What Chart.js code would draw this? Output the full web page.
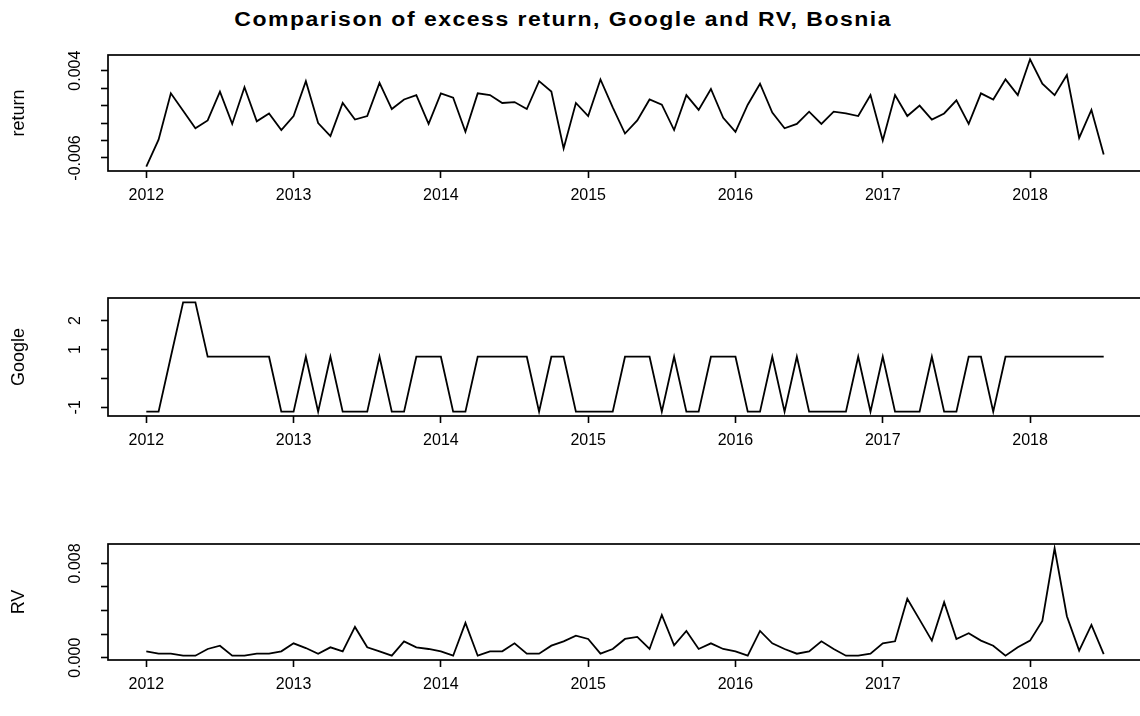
<!DOCTYPE html>
<html>
<head>
<meta charset="utf-8">
<script src="https://cdn.jsdelivr.net/npm/chart.js@4.4.1/dist/chart.umd.min.js"></script>
<style>
  html, body { margin: 0; padding: 0; background: #fff; overflow: hidden; }
  #page { position: relative; width: 1140px; height: 716px; overflow: hidden; }
  .panel { position: absolute; left: 0; }
  #title {
    position: absolute; top: 8px; left: 0; width: 1126px; text-align: center;
    font: bold 20px "Liberation Sans", Arial, sans-serif; letter-spacing: 1.3px; color: #000;
    transform: scaleX(1.15); transform-origin: 562px 0;
  }
</style>
</head>
<body>
<div id="page">
  <div id="title">Comparison of excess return, Google and RV, Bosnia</div>
  <div class="panel" style="top:45px"><canvas id="c-return" width="1143" height="172"></canvas></div>
  <div class="panel" style="top:288px"><canvas id="c-google" width="1143" height="174"></canvas></div>
  <div class="panel" style="top:534px"><canvas id="c-rv" width="1143" height="172"></canvas></div>
</div>
<script>
// monthly series, Jan 2012 .. Jul 2018
const startYear = 2012;
const xTickYears = [2012, 2013, 2014, 2015, 2016, 2017, 2018];

const returnValues = [
  -0.0070, -0.0039, 0.0014, -0.0006, -0.0026, -0.0017, 0.0016, -0.0021, 0.0021, -0.0018, -0.0009, -0.0028,
  -0.0012, 0.0028, -0.0020, -0.0035, 0.0003, -0.0016, -0.0012, 0.0026, -0.0004, 0.0007, 0.0012, -0.0021,
  0.0014, 0.0009, -0.0030, 0.0014, 0.0012, 0.0003, 0.0004, -0.0004, 0.0028, 0.0016, -0.0049, 0.0003,
  -0.0012, 0.0030, -0.0002, -0.0032, -0.0017, 0.0007, 0.0001, -0.0028, 0.0012, -0.0005, 0.0019, -0.0014,
  -0.0030, 0.0001, 0.0025, -0.0008, -0.0026, -0.0021, -0.0007, -0.0021, -0.0007, -0.0009, -0.0012, 0.0012,
  -0.0040, 0.0012, -0.0012, 0.0000, -0.0016, -0.0009, 0.0006, -0.0021, 0.0014, 0.0007, 0.0030, 0.0012,
  0.0053, 0.0025, 0.0012, 0.0035, -0.0037, -0.0005, -0.0056
];

const googleValues = [
  -1.15, -1.15, 0.75, 2.63, 2.63, 0.75, 0.75, 0.75, 0.75, 0.75, 0.75, -1.15,
  -1.15, 0.75, -1.15, 0.75, -1.15, -1.15, -1.15, 0.75, -1.15, -1.15, 0.75, 0.75,
  0.75, -1.15, -1.15, 0.75, 0.75, 0.75, 0.75, 0.75, -1.15, 0.75, 0.75, -1.15,
  -1.15, -1.15, -1.15, 0.75, 0.75, 0.75, -1.15, 0.75, -1.15, -1.15, 0.75, 0.75,
  0.75, -1.15, -1.15, 0.75, -1.15, 0.75, -1.15, -1.15, -1.15, -1.15, 0.75, -1.15,
  0.75, -1.15, -1.15, -1.15, 0.75, -1.15, -1.15, 0.75, 0.75, -1.15, 0.75, 0.75,
  0.75, 0.75, 0.75, 0.75, 0.75, 0.75, 0.75
];

const rvValues = [
  0.00054, 0.00034, 0.00034, 0.00017, 0.00017, 0.00074, 0.00102, 0.00017, 0.00017, 0.00034, 0.00034, 0.00054,
  0.00122, 0.00082, 0.00034, 0.00088, 0.00054, 0.00261, 0.00088, 0.00054, 0.00017, 0.00139, 0.00088, 0.00074,
  0.00054, 0.00017, 0.00295, 0.00017, 0.00054, 0.00054, 0.00122, 0.00034, 0.00034, 0.00102, 0.00139, 0.00187,
  0.00159, 0.00034, 0.00074, 0.00159, 0.00176, 0.00074, 0.00363, 0.00105, 0.00227, 0.00074, 0.00122, 0.00074,
  0.00054, 0.00017, 0.00227, 0.00122, 0.00074, 0.00034, 0.00054, 0.00139, 0.00074, 0.00017, 0.00017, 0.00034,
  0.00122, 0.00139, 0.00500, 0.00323, 0.00145, 0.00471, 0.00159, 0.00207, 0.00145, 0.00102, 0.00017, 0.00088,
  0.00145, 0.00312, 0.00928, 0.00352, 0.00060, 0.00278, 0.00031
];

const returnTicks = [-0.006, -0.004, -0.002, 0, 0.002, 0.004];
const returnTickLabels = ['-0.006', '', '', '', '', '0.004'];
const googleTicks = [-1, 0, 1, 2];
const googleTickLabels = ['-1', '', '1', '2'];
const rvTicks = [0, 0.002, 0.004, 0.006, 0.008];
const rvTickLabels = ['0.000', '', '', '', '0.008'];

const FONT = '"Liberation Sans", Arial, sans-serif';

// R style box around the plot region
const boxPlugin = {
  id: 'rBox',
  afterDraw(chart) {
    const { ctx, chartArea: a } = chart;
    ctx.save();
    ctx.strokeStyle = '#000';
    ctx.lineWidth = 1.7;
    ctx.strokeRect(a.left, a.top, a.right - a.left, a.bottom - a.top);
    ctx.restore();
  }
};

// y tick labels drawn parallel to the axis, like R does
const yLabelPlugin = {
  id: 'rYLabels',
  afterDraw(chart, args, opts) {
    const { ctx } = chart;
    const scale = chart.scales.y;
    ctx.save();
    ctx.font = '16px ' + FONT;
    ctx.fillStyle = '#000';
    ctx.textAlign = 'center';
    ctx.textBaseline = 'middle';
    opts.values.forEach((v, i) => {
      const text = opts.labels[i];
      if (!text) return;
      ctx.save();
      ctx.translate(opts.x, scale.getPixelForValue(v));
      ctx.rotate(-Math.PI / 2);
      ctx.fillText(text, 0, 0);
      ctx.restore();
    });
    ctx.restore();
  }
};

function rRange(values) {
  const lo = Math.min(...values);
  const hi = Math.max(...values);
  const pad = (hi - lo) * 0.04;
  return [lo - pad, hi + pad];
}

function makePanel(canvasId, values, yTicks, yTickLabels, yTitle) {
  const points = values.map((v, i) => ({ x: startYear + i / 12, y: v }));
  const xr = rRange(points.map(p => p.x));
  const yr = rRange(values);

  new Chart(document.getElementById(canvasId), {
    type: 'line',
    data: {
      datasets: [{
        data: points,
        borderColor: '#000',
        borderWidth: 1.8,
        pointRadius: 0,
        tension: 0,
        fill: false
      }]
    },
    options: {
      responsive: false,
      animation: false,
      events: [],
      layout: { padding: { top: 10, right: 1, left: 0, bottom: 0 } },
      plugins: {
        legend: { display: false },
        tooltip: { enabled: false },
        rYLabels: { values: yTicks, labels: yTickLabels, x: 76 }
      },
      scales: {
        x: {
          type: 'linear',
          min: xr[0],
          max: xr[1],
          afterBuildTicks: scale => { scale.ticks = xTickYears.map(v => ({ value: v })); },
          afterFit: scale => { scale.height = 46; },
          grid: { drawOnChartArea: false, drawTicks: true, tickLength: 7, tickWidth: 1.6, tickColor: '#000' },
          border: { display: false },
          ticks: {
            autoSkip: false,
            maxRotation: 0,
            padding: 8,
            color: '#000',
            font: { family: FONT, size: 16 },
            callback: v => String(v)
          }
        },
        y: {
          type: 'linear',
          min: yr[0],
          max: yr[1],
          afterBuildTicks: scale => { scale.ticks = yTicks.map(v => ({ value: v })); },
          afterFit: scale => { scale.width = 108; },
          grid: { drawOnChartArea: false, drawTicks: true, tickLength: 7, tickWidth: 1.6, tickColor: '#000' },
          border: { display: false },
          ticks: { display: false },
          title: {
            display: true,
            text: yTitle,
            color: '#000',
            font: { family: FONT, size: 18 },
            padding: { top: 8, bottom: 0 }
          }
        }
      }
    },
    plugins: [boxPlugin, yLabelPlugin]
  });
}

makePanel('c-return', returnValues, returnTicks, returnTickLabels, 'return');
makePanel('c-google', googleValues, googleTicks, googleTickLabels, 'Google');
makePanel('c-rv', rvValues, rvTicks, rvTickLabels, 'RV');
</script>
</body>
</html>
